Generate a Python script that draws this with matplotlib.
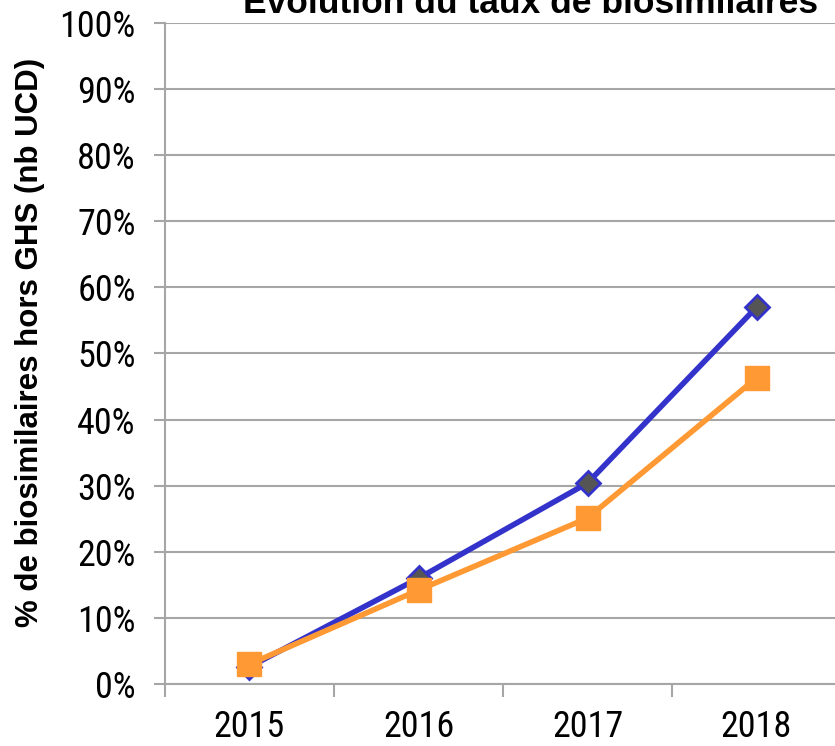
import numpy as np
import matplotlib.pyplot as plt
from matplotlib.ticker import FixedLocator, NullFormatter

years = ["2015", "2016", "2017", "2018"]
serie_bleue = [2.6, 16.0, 30.4, 57.0]
serie_orange = [3.0, 14.2, 25.1, 46.3]
y_ticks = list(range(0, 101, 10))

NARROW = ["Roboto Condensed", "DejaVu Sans"]
BOLD = ["Liberation Sans", "DejaVu Sans"]


def main() -> None:
    fig = plt.figure(figsize=(8.35, 7.46), dpi=100)
    ax = fig.add_axes([0.1976, 0.0831, 0.8096, 0.8861])

    x = np.arange(len(years))
    ax.plot(x, serie_bleue, color="#3333CC", linewidth=4, marker="D",
            markersize=12, markerfacecolor="#555555",
            markeredgecolor="#3333CC", markeredgewidth=2, zorder=3)
    ax.plot(x, serie_orange, color="#FF9933", linewidth=4, marker="s",
            markersize=17, markerfacecolor="#FF9933",
            markeredgecolor="#FF9933", zorder=4)

    ax.set_xlim(-0.5, 3.5)
    ax.set_ylim(0, 100)
    ax.set_yticks(y_ticks)
    ax.set_yticklabels([f"{v}%" for v in y_ticks], family=NARROW, fontsize=26)
    ax.yaxis.grid(True, color="#A6A6A6", linewidth=1.5)
    ax.set_axisbelow(True)

    # ticks entre les catégories, libellés centrés
    ax.xaxis.set_major_locator(FixedLocator(x - 0.5))
    ax.xaxis.set_major_formatter(NullFormatter())
    ax.xaxis.set_minor_locator(FixedLocator(x))
    ax.set_xticklabels(years, minor=True, family=NARROW, fontsize=26)
    ax.tick_params(axis="x", which="minor", length=0, pad=18)
    ax.tick_params(axis="x", which="major", length=9, width=1.5,
                   color="#A6A6A6")
    ax.tick_params(axis="y", length=8, width=1.5, color="#A6A6A6", pad=13)

    for side in ("top", "right"):
        ax.spines[side].set_visible(False)
    for side in ("left", "bottom"):
        ax.spines[side].set_color("#A6A6A6")
        ax.spines[side].set_linewidth(1.5)

    fig.text(30 / 835, 1 - 342 / 746, "% de biosimilaires hors GHS (nb UCD)",
             rotation=90, ha="center", va="center", family=BOLD,
             fontweight="bold", fontsize=22.5)

    fig.text(0.636, 1 - 13 / 746, "Evolution du taux de biosimilaires",
             ha="center", va="baseline", family=BOLD, fontweight="bold",
             fontsize=25.5)

    fig.savefig("out.png", dpi=100)
    plt.close(fig)


if __name__ == "__main__":
    main()
